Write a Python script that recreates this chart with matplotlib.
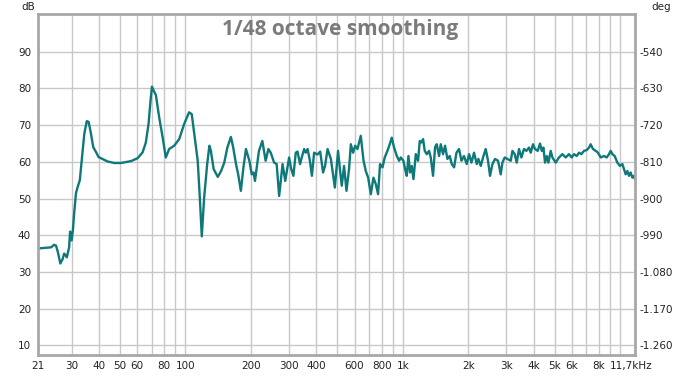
import matplotlib
matplotlib.use("Agg")
import matplotlib.pyplot as plt
from matplotlib.ticker import FixedLocator, NullLocator

# frequency response (Hz, dB)
freq_hz = [21, 24.1, 24.9, 25.4, 25.9, 26.6, 27.3, 27.7, 28.2, 28.5, 29.2, 29.5, 30.0, 30.4,
           30.8, 31.4, 31.9, 32.7, 33.7, 34.3, 35.2, 35.9, 36.8, 37.7, 38.8, 39.9, 40.9, 43.9,
           47.1, 50.5, 56.2, 60.3, 63.6, 65.8, 67.7, 69.4, 70.2, 71.9, 73.2, 75.8, 78.6, 81.3,
           84.2, 88.8, 93.7, 98.7, 104, 107, 110, 114, 117, 119, 122, 126, 129, 131, 135, 141,
           146, 151, 156, 162, 166, 171, 175, 180, 185, 190, 197, 202, 206, 209, 218, 226, 234,
           241, 247, 256, 263, 270, 280, 288, 295, 300, 307, 314, 322, 328, 337, 343, 352, 358,
           365, 374, 382, 391, 405, 417, 430, 439, 451, 467, 487, 496, 504, 513, 524, 537, 551,
           566, 577, 591, 604, 619, 641, 660, 676, 693, 713, 733, 752, 770, 786, 807, 826, 850,
           871, 890, 912, 939, 962, 979, 1007, 1025, 1043, 1062, 1080, 1100, 1120, 1148, 1176,
           1197, 1219, 1240, 1262, 1289, 1321, 1345, 1378, 1408, 1433, 1469, 1495, 1532, 1565,
           1605, 1645, 1680, 1722, 1766, 1815, 1862, 1913, 1969, 2018, 2070, 2127, 2189, 2228,
           2284, 2340, 2407, 2467, 2520, 2585, 2657, 2743, 2822, 2873, 2944, 3030, 3138, 3195,
           3273, 3343, 3425, 3513, 3611, 3704, 3807, 3878, 3972, 4058, 4175, 4279, 4357, 4436,
           4512, 4594, 4676, 4791, 4878, 5051, 5232, 5424, 5616, 5815, 5984, 6133, 6310, 6466,
           6632, 6818, 7015, 7188, 7318, 7497, 7716, 7906, 8134, 8424, 8668, 8882, 9044, 9208,
           9434, 9707, 9979, 10234, 10411, 10600, 10792, 10977, 11176, 11379, 11572, 11700]
level_db = [36.4, 36.7, 37.4, 37.2, 35.5, 32.3, 33.6, 35.0, 34.5, 34.0, 36.7, 41.0, 38.6, 41.5,
            46.0, 51.5, 53.0, 55.0, 63.0, 67.7, 71.1, 70.9, 67.7, 64.0, 62.7, 61.3, 61.0, 60.1,
            59.7, 59.7, 60.2, 61.0, 62.6, 65.3, 70.3, 77.7, 80.5, 79.1, 78.2, 72.1, 66.7, 61.2,
            63.5, 64.4, 66.2, 70.3, 73.5, 73.0, 67.5, 60.3, 48.4, 39.7, 50.2, 59.4, 64.4, 63.0, 58.0, 55.9,
            57.5, 59.8, 63.9, 66.8, 63.9, 59.4, 56.6, 52.1, 58.5, 63.5, 60.3, 56.6, 57.1, 54.8, 63.0, 65.7, 60.3,
            63.5, 62.5, 59.8, 59.4, 50.7, 59.4, 54.8, 58.5, 61.2, 58.0, 56.2, 62.5, 62.8, 59.4, 61.2, 63.5, 62.5,
            63.5, 60.3, 56.2, 62.5, 62.0, 62.8, 57.1, 58.9, 63.5, 60.8, 53.0, 58.5, 63.0, 58.5, 53.5, 58.9, 52.1,
            58.0, 64.8, 62.5, 64.4, 63.5, 67.1, 60.3, 57.5, 55.7, 51.2, 55.7, 53.9, 51.2, 59.4, 58.5, 61.2, 63.0,
            64.8, 66.6, 63.9, 61.6, 60.3, 61.2, 60.3, 58.0, 56.2, 61.6, 57.1, 58.9, 55.3, 62.1, 60.3,
            65.7, 65.3, 66.2, 63.0, 62.1, 63.0, 61.2, 56.2, 64.0, 64.8, 61.6, 64.8, 62.1, 64.4,
            60.8, 61.6, 59.4, 58.5, 62.5, 63.5, 60.3, 61.6, 59.4, 62.1, 59.8, 62.5, 59.4, 60.8,
            58.9, 61.2, 63.5, 60.3, 56.2, 59.4, 60.8, 60.3, 56.6, 59.8, 61.2, 60.8, 60.3, 63.0,
            62.1, 59.8, 63.5, 61.2, 63.5, 63.0, 63.9, 62.5, 64.8, 63.5, 63.0, 65.0, 63.0, 63.9,
            59.8, 61.6, 59.8, 63.0, 61.2, 59.8, 61.2, 62.1, 61.2, 62.1, 61.2, 62.1, 61.6, 62.5,
            62.1, 63.0, 63.2, 63.9, 64.8, 63.5, 63.0, 62.5, 61.2, 61.6, 61.2, 62.1, 63.0, 62.1,
            61.6, 59.8, 58.9, 59.4, 58.0, 56.6, 57.5, 56.2, 57.1, 55.7, 56.2, 55.3]

x_ticks = [21, 30, 40, 50, 60, 80, 100, 200, 300, 400, 600, 800, 1000, 2000, 3000, 4000,
           5000, 6000, 8000]
x_labels = ["21", "30", "40", "50", "60", "80", "100", "200", "300", "400", "600", "800",
            "1k", "2k", "3k", "4k", "5k", "6k", "8k"]
x_grid = [30, 40, 50, 60, 70, 80, 90, 100, 200, 300, 400, 500, 600, 700, 800, 900,
          1000, 2000, 3000, 4000, 5000, 6000, 7000, 8000, 9000, 10000]
db_ticks = [10, 20, 30, 40, 50, 60, 70, 80, 90]
deg_ticks = [-540, -630, -720, -810, -900, -990, -1080, -1170, -1260]

W, H = 682, 377
fig = plt.figure(figsize=(W / 100, H / 100), dpi=100)
ax = fig.add_axes([38 / W, 1 - 354.5 / H, (635 - 38) / W, (354.5 - 14) / H])

ax.set_xscale("log")
ax.set_xlim(21, 11700)
ax.set_ylim(7.5, 100.3)

for g in x_grid:
    ax.axvline(g, color="#c8c8c8", lw=1, zorder=1)
for g in db_ticks:
    ax.axhline(g, color="#c8c8c8", lw=1, zorder=1)

ax.plot(freq_hz, level_db, color="#0f7878", lw=1.7, zorder=3, solid_joinstyle="round")

ax.xaxis.set_major_locator(FixedLocator(x_ticks))
ax.xaxis.set_minor_locator(NullLocator())
ax.set_xticklabels(x_labels)
ax.set_yticks(db_ticks)
ax.tick_params(axis="both", length=0, labelsize=7.5, colors="#222222")
ax.tick_params(axis="x", pad=5)
ax.tick_params(axis="y", pad=5)

ax.annotate("11,7kHz", xy=(11700, 0), xycoords=("data", "axes fraction"),
            xytext=(-4, -7), textcoords="offset pixels", ha="center", va="top",
            fontsize=7.5, color="#222222")

for s in ax.spines.values():
    s.set_color("#a8a8a8")
    s.set_linewidth(2)
    s.set_zorder(4)

# phase axis on the right
ax2 = ax.twinx()
ax2.set_ylim(-540 + (7.5 - 90) * 9, -540 + (100.3 - 90) * 9)
ax2.set_yticks(deg_ticks)
ax2.set_yticklabels([f"{v:,}".replace(",", ".") for v in deg_ticks])
ax2.tick_params(axis="y", length=0, labelsize=7.5, colors="#222222", pad=3)
for s in ax2.spines.values():
    s.set_visible(False)

fig.text(28 / W, 1 - 7 / H, "dB", ha="center", va="center", fontsize=7.5, color="#222222")
fig.text(661 / W, 1 - 7 / H, "deg", ha="center", va="center", fontsize=7.5, color="#222222")
fig.text(340 / W, 1 - 29 / H, "1/48 octave smoothing", ha="center", va="center",
         fontsize=15, fontweight="bold", family="Open Sans", color="#7b7b7b")

fig.savefig("out.png", dpi=100)
